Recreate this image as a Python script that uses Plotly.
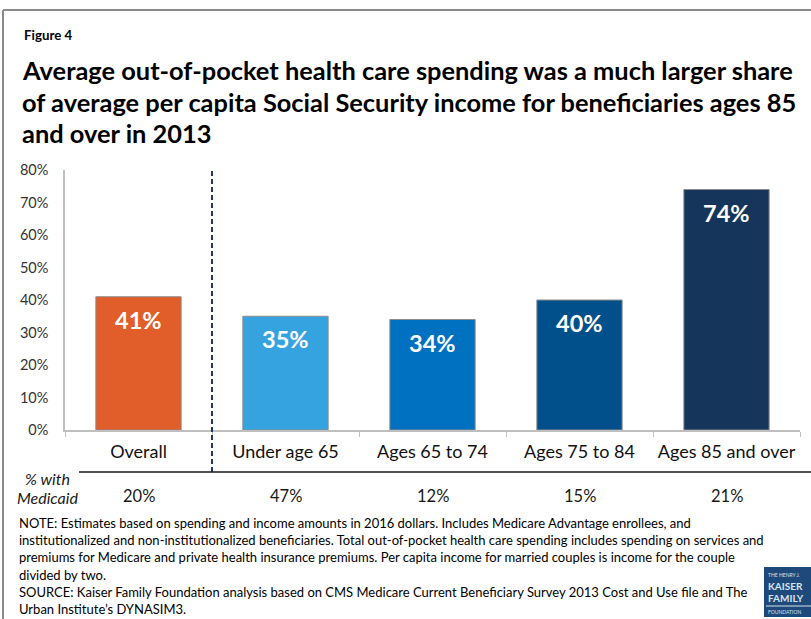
import plotly.graph_objects as go

# Data
categories = ["Overall", "Under age 65", "Ages 65 to 74", "Ages 75 to 84", "Ages 85 and over"]
spending_share = [41, 35, 34, 40, 74]
pct_medicaid = [20, 47, 12, 15, 21]
bar_colors = ["#E15D29", "#35A3E0", "#0070C0", "#02508B", "#15355A"]
y_ticks = [0, 10, 20, 30, 40, 50, 60, 70, 80]
y_tick_labels = [f"{v}%" for v in y_ticks]

W, H = 811, 619
L, R, T, B = 65, 11, 170, 189
PW, PH = W - L - R, H - T - B
FONT = "Lato"


def px(x):
    return (x - L) / PW


def py(y):
    return (H - B - y) / PH


fig = go.Figure()
fig.add_trace(go.Bar(
    x=categories, y=spending_share,
    marker=dict(color=bar_colors, line=dict(color="#8C8C8C", width=1)),
    width=0.58, hoverinfo="skip",
))

annotations = []
# value labels inside the bars
for c, v in zip(categories, spending_share):
    annotations.append(dict(x=c, y=v, xref="x", yref="y", text=f"<b>{v}%</b>",
                            showarrow=False, yanchor="top", yshift=-7,
                            font=dict(family=FONT, size=23.5, color="white")))
# % with Medicaid row
for c, m in zip(categories, pct_medicaid):
    annotations.append(dict(x=c, y=py(496), xref="x", yref="paper", text=f"{m}%",
                            showarrow=False, yanchor="middle",
                            font=dict(family=FONT, size=16.5, color="#1a1a1a")))
annotations.append(dict(x=px(47), y=py(478), xref="paper", yref="paper", text="<i>% with</i>",
                        showarrow=False, xanchor="center", yanchor="middle",
                        font=dict(family=FONT, size=16, color="#1a1a1a")))
annotations.append(dict(x=px(47), y=py(497), xref="paper", yref="paper", text="<i>Medicaid</i>",
                        showarrow=False, xanchor="center", yanchor="middle",
                        font=dict(family=FONT, size=16, color="#1a1a1a")))

# heading
annotations.append(dict(x=px(22), y=py(35), xref="paper", yref="paper", text="<b>Figure 4</b>",
                        showarrow=False, xanchor="left", yanchor="middle",
                        font=dict(family=FONT, size=13.3, color="#000")))
title_lines = [
    "Average out-of-pocket health care spending was a much larger share",
    "of average per capita Social Security income for beneficiaries ages 85",
    "and over in 2013",
]
for i, line in enumerate(title_lines):
    annotations.append(dict(x=px(20), y=py(70 + 31.5 * i), xref="paper", yref="paper",
                            text=f"<b>{line}</b>", showarrow=False,
                            xanchor="left", yanchor="middle",
                            font=dict(family=FONT, size=25.4, color="#000")))

note_lines = [
    "NOTE: Estimates based on spending and income amounts in 2016 dollars. Includes Medicare Advantage enrollees, and",
    "institutionalized and non-institutionalized beneficiaries. Total out-of-pocket health care spending includes spending on services and",
    "premiums for Medicare and private health insurance premiums. Per capita income for married couples is income for the couple",
    "divided by two.",
    "SOURCE: Kaiser Family Foundation analysis based on CMS Medicare Current Beneficiary Survey 2013 Cost and Use file and The",
    "Urban Institute\u2019s DYNASIM3.",
]
for i, line in enumerate(note_lines):
    annotations.append(dict(x=px(17), y=py(523 + 17.2 * i), xref="paper", yref="paper",
                            text=line, showarrow=False, xanchor="left", yanchor="middle",
                            font=dict(family=FONT, size=13, color="#000")))

# logo text
logo_lines = [("THE HENRY J.", 5, 575), ("<b>KAISER</b>", 10, 586), ("<b>FAMILY</b>", 10, 598),
              ("FOUNDATION", 5, 612)]
for t, s, yy in logo_lines:
    annotations.append(dict(x=px(766), y=py(yy), xref="paper", yref="paper", text=t,
                            showarrow=False, xanchor="left", yanchor="middle",
                            font=dict(family=FONT, size=s, color="#D8E2EE")))

shapes = [
    # divider between overall and age groups
    dict(type="line", xref="x", yref="paper", x0=0.5, x1=0.5, y0=py(472), y1=1.0,
         line=dict(color="#1F3864", width=2, dash="5px,3px")),
    # rule above the Medicaid row
    dict(type="line", xref="paper", yref="paper", x0=px(79), x1=px(811), y0=py(472), y1=py(472),
         line=dict(color="#1a1a1a", width=1.5)),
    # outer frame
    dict(type="line", xref="paper", yref="paper", x0=px(3), x1=px(811), y0=py(10), y1=py(10),
         line=dict(color="#8A8A8A", width=2)),
    dict(type="line", xref="paper", yref="paper", x0=px(3), x1=px(3), y0=py(10), y1=py(619),
         line=dict(color="#8A8A8A", width=2)),
    # logo block
    dict(type="rect", xref="paper", yref="paper", x0=px(764), x1=px(812), y0=py(567), y1=py(617),
         line=dict(width=0), fillcolor="#1D4A7A"),
    dict(type="line", xref="paper", yref="paper", x0=px(766), x1=px(812), y0=py(606), y1=py(606),
         line=dict(color="#D8E2EE", width=1)),
]

fig.update_layout(
    width=W, height=H,
    margin=dict(l=L, r=R, t=T, b=B, autoexpand=False),
    paper_bgcolor="white", plot_bgcolor="white",
    showlegend=False, bargap=0.42,
    font=dict(family=FONT, color="#222"),
    annotations=annotations, shapes=shapes,
    xaxis=dict(type="category", showline=True, linecolor="#BFBFBF", linewidth=1.5,
               ticks="outside", ticklen=5, tickcolor="#BFBFBF", tickson="boundaries",
               tickfont=dict(family=FONT, size=18, color="#111"), showgrid=False,
               tickangle=0, automargin=False,
               ticklabelstandoff=5, fixedrange=True),
    yaxis=dict(range=[0, 80], tickmode="array", tickvals=y_ticks, ticktext=y_tick_labels,
               showline=True, linecolor="#BFBFBF", linewidth=1.5, showgrid=False, zeroline=False,
               tickfont=dict(family=FONT, size=14.5, color="#333"), ticks="",
               automargin=False, ticklabelstandoff=12, fixedrange=True),
)

fig.write_html("out.html")
